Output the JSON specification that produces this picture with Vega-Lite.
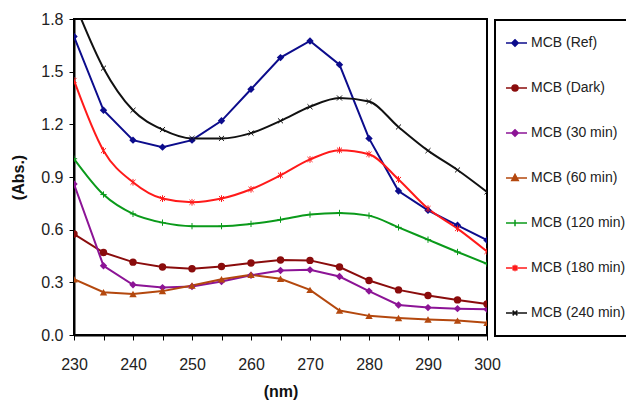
{
  "$schema": "https://vega.github.io/schema/vega-lite/v6.json",
  "width": 413,
  "height": 316,
  "autosize": "none",
  "padding": {"left": 74, "top": 19, "right": 139, "bottom": 67},
  "config": {
    "font": "Liberation Sans",
    "view": {"stroke": "black", "strokeWidth": 2},
    "axis": {"grid": false, "domainColor": "black", "domainWidth": 2, "tickColor": "black", "tickWidth": 1, "tickSize": 5, "labelFontSize": 16, "labelColor": "#222", "titleFontSize": 16, "titleFontWeight": "bold", "titleColor": "#111", "labelFont": "Liberation Sans", "titleFont": "Liberation Sans"}
  },
  "data": {"values": [
    {"s":"MCB (Ref)","nm":230,"a":1.70},{"s":"MCB (Ref)","nm":235,"a":1.28},{"s":"MCB (Ref)","nm":240,"a":1.11},{"s":"MCB (Ref)","nm":245,"a":1.07},{"s":"MCB (Ref)","nm":250,"a":1.11},{"s":"MCB (Ref)","nm":255,"a":1.22},{"s":"MCB (Ref)","nm":260,"a":1.40},{"s":"MCB (Ref)","nm":265,"a":1.58},{"s":"MCB (Ref)","nm":270,"a":1.675},{"s":"MCB (Ref)","nm":275,"a":1.54},{"s":"MCB (Ref)","nm":280,"a":1.12},{"s":"MCB (Ref)","nm":285,"a":0.82},{"s":"MCB (Ref)","nm":290,"a":0.71},{"s":"MCB (Ref)","nm":295,"a":0.625},{"s":"MCB (Ref)","nm":300,"a":0.54},
    {"s":"MCB (Dark)","nm":230,"a":0.575},{"s":"MCB (Dark)","nm":235,"a":0.47},{"s":"MCB (Dark)","nm":240,"a":0.415},{"s":"MCB (Dark)","nm":245,"a":0.387},{"s":"MCB (Dark)","nm":250,"a":0.377},{"s":"MCB (Dark)","nm":255,"a":0.39},{"s":"MCB (Dark)","nm":260,"a":0.41},{"s":"MCB (Dark)","nm":265,"a":0.427},{"s":"MCB (Dark)","nm":270,"a":0.425},{"s":"MCB (Dark)","nm":275,"a":0.387},{"s":"MCB (Dark)","nm":280,"a":0.31},{"s":"MCB (Dark)","nm":285,"a":0.257},{"s":"MCB (Dark)","nm":290,"a":0.225},{"s":"MCB (Dark)","nm":295,"a":0.20},{"s":"MCB (Dark)","nm":300,"a":0.177},
    {"s":"MCB (30 min)","nm":230,"a":0.86},{"s":"MCB (30 min)","nm":235,"a":0.394},{"s":"MCB (30 min)","nm":240,"a":0.286},{"s":"MCB (30 min)","nm":245,"a":0.27},{"s":"MCB (30 min)","nm":250,"a":0.276},{"s":"MCB (30 min)","nm":255,"a":0.305},{"s":"MCB (30 min)","nm":260,"a":0.34},{"s":"MCB (30 min)","nm":265,"a":0.367},{"s":"MCB (30 min)","nm":270,"a":0.371},{"s":"MCB (30 min)","nm":275,"a":0.333},{"s":"MCB (30 min)","nm":280,"a":0.25},{"s":"MCB (30 min)","nm":285,"a":0.171},{"s":"MCB (30 min)","nm":290,"a":0.156},{"s":"MCB (30 min)","nm":295,"a":0.15},{"s":"MCB (30 min)","nm":300,"a":0.147},
    {"s":"MCB (60 min)","nm":230,"a":0.318},{"s":"MCB (60 min)","nm":235,"a":0.244},{"s":"MCB (60 min)","nm":240,"a":0.234},{"s":"MCB (60 min)","nm":245,"a":0.25},{"s":"MCB (60 min)","nm":250,"a":0.282},{"s":"MCB (60 min)","nm":255,"a":0.318},{"s":"MCB (60 min)","nm":260,"a":0.343},{"s":"MCB (60 min)","nm":265,"a":0.32},{"s":"MCB (60 min)","nm":270,"a":0.257},{"s":"MCB (60 min)","nm":275,"a":0.139},{"s":"MCB (60 min)","nm":280,"a":0.109},{"s":"MCB (60 min)","nm":285,"a":0.097},{"s":"MCB (60 min)","nm":290,"a":0.088},{"s":"MCB (60 min)","nm":295,"a":0.082},{"s":"MCB (60 min)","nm":300,"a":0.07},
    {"s":"MCB (120 min)","nm":230,"a":1.004},{"s":"MCB (120 min)","nm":235,"a":0.80},{"s":"MCB (120 min)","nm":240,"a":0.69},{"s":"MCB (120 min)","nm":245,"a":0.64},{"s":"MCB (120 min)","nm":250,"a":0.62},{"s":"MCB (120 min)","nm":255,"a":0.62},{"s":"MCB (120 min)","nm":260,"a":0.633},{"s":"MCB (120 min)","nm":265,"a":0.657},{"s":"MCB (120 min)","nm":270,"a":0.686},{"s":"MCB (120 min)","nm":275,"a":0.695},{"s":"MCB (120 min)","nm":280,"a":0.68},{"s":"MCB (120 min)","nm":285,"a":0.613},{"s":"MCB (120 min)","nm":290,"a":0.543},{"s":"MCB (120 min)","nm":295,"a":0.473},{"s":"MCB (120 min)","nm":300,"a":0.406},
    {"s":"MCB (180 min)","nm":230,"a":1.45},{"s":"MCB (180 min)","nm":235,"a":1.05},{"s":"MCB (180 min)","nm":240,"a":0.87},{"s":"MCB (180 min)","nm":245,"a":0.777},{"s":"MCB (180 min)","nm":250,"a":0.756},{"s":"MCB (180 min)","nm":255,"a":0.777},{"s":"MCB (180 min)","nm":260,"a":0.83},{"s":"MCB (180 min)","nm":265,"a":0.91},{"s":"MCB (180 min)","nm":270,"a":1.00},{"s":"MCB (180 min)","nm":275,"a":1.053},{"s":"MCB (180 min)","nm":280,"a":1.03},{"s":"MCB (180 min)","nm":285,"a":0.886},{"s":"MCB (180 min)","nm":290,"a":0.72},{"s":"MCB (180 min)","nm":295,"a":0.606},{"s":"MCB (180 min)","nm":300,"a":0.476},
    {"s":"MCB (240 min)","nm":230,"a":1.9},{"s":"MCB (240 min)","nm":235,"a":1.52},{"s":"MCB (240 min)","nm":240,"a":1.28},{"s":"MCB (240 min)","nm":245,"a":1.17},{"s":"MCB (240 min)","nm":250,"a":1.12},{"s":"MCB (240 min)","nm":255,"a":1.12},{"s":"MCB (240 min)","nm":260,"a":1.15},{"s":"MCB (240 min)","nm":265,"a":1.22},{"s":"MCB (240 min)","nm":270,"a":1.30},{"s":"MCB (240 min)","nm":275,"a":1.35},{"s":"MCB (240 min)","nm":280,"a":1.33},{"s":"MCB (240 min)","nm":285,"a":1.185},{"s":"MCB (240 min)","nm":290,"a":1.05},{"s":"MCB (240 min)","nm":295,"a":0.94},{"s":"MCB (240 min)","nm":300,"a":0.815}
  ]},
  "encoding": {
    "x": {"field": "nm", "type": "quantitative", "title": "(nm)",
      "scale": {"domain": [230, 300], "nice": false, "zero": false},
      "axis": {"values": [230,235,240,245,250,255,260,265,270,275,280,285,290,295,300], "labelExpr": "datum.value % 10 === 0 ? datum.label : ''", "labelPadding": 16, "titlePadding": 11, "labelFlush": false}},
    "y": {"field": "a", "type": "quantitative", "title": "(Abs.)",
      "scale": {"domain": [0, 1.8], "nice": false},
      "axis": {"values": [0,0.3,0.6,0.9,1.2,1.5,1.8], "labelPadding": 6, "titlePadding": 14, "labelFlush": false}},
    "color": {"field": "s", "type": "nominal", "legend": null,
      "scale": {"domain": ["MCB (Ref)","MCB (Dark)","MCB (30 min)","MCB (60 min)","MCB (120 min)","MCB (180 min)","MCB (240 min)"],
                "range": ["#0c0c8c","#8a0c0c","#8c1496","#b4480e","#0a9a1a","#ff1a1a","#111111"]}}
  },
  "layer": [
    {
      "transform": [{"filter": {"field": "s", "oneOf": ["MCB (Ref)","MCB (Dark)","MCB (30 min)","MCB (60 min)"]}}],
      "mark": {"type": "line", "strokeWidth": 2, "clip": true},
      "encoding": {
        "color": {"field": "s", "type": "nominal",
          "scale": {"domain": ["MCB (Ref)","MCB (Dark)","MCB (30 min)","MCB (60 min)","MCB (120 min)","MCB (180 min)","MCB (240 min)"],
                    "range": ["#0c0c8c","#8a0c0c","#8c1496","#b4480e","#0a9a1a","#ff1a1a","#111111"]},
          "legend": {"title": null, "orient": "none", "legendX": 421, "legendY": 1,
            "strokeColor": "black", "padding": 11, "fillColor": "white",
            "symbolSize": 576, "clipHeight": 24, "rowPadding": 21, "labelOffset": -1, "labelFontSize": 14, "labelColor": "#222", "labelFont": "Liberation Sans", "labelLimit": 200,
            "encode": {
              "legend": {"update": {"strokeWidth": {"value": 2}}},
              "symbols": {"update": {
                "shape": {"signal": "['M-1.333,0L0.667,0M-0.333,-0.27L-0.063,0L-0.333,0.27L-0.603,0Z','M-1.333,0L0.667,0M-0.083,0A0.25,0.25,0,1,1,-0.583,0A0.25,0.25,0,1,1,-0.083,0Z','M-1.333,0L0.667,0M-0.333,-0.27L-0.063,0L-0.333,0.27L-0.603,0Z','M-1.333,0L0.667,0M-0.333,-0.3L-0.063,0.2L-0.603,0.2Z','M-1.333,0L0.667,0M-0.333,-0.28L-0.333,0.28','M-1.333,0L0.667,0M-0.533,-0.2L-0.133,0.2M-0.533,0.2L-0.133,-0.2M-0.333,-0.28L-0.333,0.28','M-1.333,0L0.667,0M-0.533,-0.2L-0.133,0.2M-0.533,0.2L-0.133,-0.2'][indexof(['MCB (Ref)','MCB (Dark)','MCB (30 min)','MCB (60 min)','MCB (120 min)','MCB (180 min)','MCB (240 min)'], datum.value)]"},
                "fill": {"scale": "color", "field": "value"},
                "stroke": {"scale": "color", "field": "value"},
                "strokeWidth": {"value": 1.5},
                "opacity": {"value": 1}
              }}
            }}
        }
      }
    },
    {
      "transform": [{"filter": {"field": "s", "oneOf": ["MCB (120 min)","MCB (180 min)","MCB (240 min)"]}}],
      "mark": {"type": "line", "strokeWidth": 2, "clip": true, "interpolate": "monotone"}
    },
    {
      "transform": [{"filter": {"field": "s", "oneOf": ["MCB (Ref)","MCB (30 min)"]}}],
      "mark": {"type": "point", "shape": "diamond", "filled": true, "size": 55, "opacity": 1, "clip": true}
    },
    {
      "transform": [{"filter": {"field": "s", "equal": "MCB (Dark)"}}],
      "mark": {"type": "point", "shape": "circle", "filled": true, "size": 55, "opacity": 1, "clip": true}
    },
    {
      "transform": [{"filter": {"field": "s", "equal": "MCB (60 min)"}}],
      "mark": {"type": "point", "shape": "triangle-up", "filled": true, "size": 55, "opacity": 1, "clip": true}
    },
    {
      "transform": [{"filter": {"field": "s", "equal": "MCB (120 min)"}}],
      "mark": {"type": "point", "shape": "M0,-1L0,1M-1,0L1,0", "filled": false, "size": 40, "strokeWidth": 1, "opacity": 1, "clip": true}
    },
    {
      "transform": [{"filter": {"field": "s", "equal": "MCB (180 min)"}}],
      "mark": {"type": "point", "shape": "M-0.75,-0.75L0.75,0.75M-0.75,0.75L0.75,-0.75M0,-1L0,1", "filled": false, "size": 45, "strokeWidth": 1, "opacity": 1, "clip": true}
    },
    {
      "transform": [{"filter": {"field": "s", "equal": "MCB (240 min)"}}],
      "mark": {"type": "point", "shape": "M-0.75,-0.75L0.75,0.75M-0.75,0.75L0.75,-0.75", "filled": false, "size": 45, "strokeWidth": 1, "opacity": 1, "clip": true}
    }
  ]
}
